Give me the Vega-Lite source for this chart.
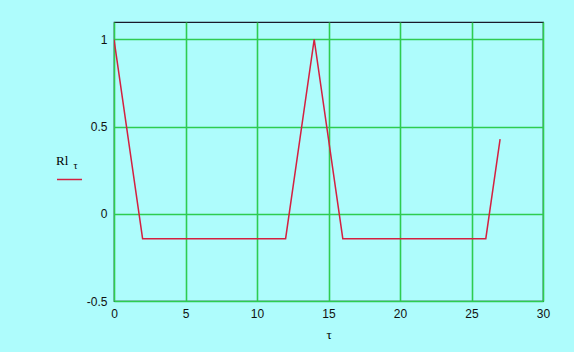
{
  "$schema": "https://vega.github.io/schema/vega-lite/v6.json",
  "autosize": {"type": "none"},
  "padding": {"left": 114, "top": 22, "right": 31, "bottom": 51},
  "width": 429,
  "height": 279,
  "background": "#aefcfc",
  "data": {
    "values": [
      {"tau": 0, "R": 1},
      {"tau": 1, "R": 0.428571},
      {"tau": 2, "R": -0.142857},
      {"tau": 3, "R": -0.142857},
      {"tau": 4, "R": -0.142857},
      {"tau": 5, "R": -0.142857},
      {"tau": 6, "R": -0.142857},
      {"tau": 7, "R": -0.142857},
      {"tau": 8, "R": -0.142857},
      {"tau": 9, "R": -0.142857},
      {"tau": 10, "R": -0.142857},
      {"tau": 11, "R": -0.142857},
      {"tau": 12, "R": -0.142857},
      {"tau": 13, "R": 0.428571},
      {"tau": 14, "R": 1},
      {"tau": 15, "R": 0.428571},
      {"tau": 16, "R": -0.142857},
      {"tau": 17, "R": -0.142857},
      {"tau": 18, "R": -0.142857},
      {"tau": 19, "R": -0.142857},
      {"tau": 20, "R": -0.142857},
      {"tau": 21, "R": -0.142857},
      {"tau": 22, "R": -0.142857},
      {"tau": 23, "R": -0.142857},
      {"tau": 24, "R": -0.142857},
      {"tau": 25, "R": -0.142857},
      {"tau": 26, "R": -0.142857},
      {"tau": 27, "R": 0.428571}
    ]
  },
  "mark": {"type": "line", "strokeWidth": 1.5, "clip": true},
  "encoding": {
    "x": {
      "field": "tau",
      "type": "quantitative",
      "scale": {"domain": [0, 30], "nice": false, "zero": false},
      "axis": {
        "title": "τ",
        "values": [0, 5, 10, 15, 20, 25, 30],
        "labelFlush": false,
        "labelOverlap": false,
        "titleFont": "Liberation Serif",
        "titleFontSize": 13,
        "titleFontWeight": "normal",
        "titleColor": "#000000",
        "titlePadding": 9
      }
    },
    "y": {
      "field": "R",
      "type": "quantitative",
      "scale": {"domain": [-0.5, 1.1], "nice": false, "zero": false},
      "axis": {
        "title": "τ",
        "values": [-0.5, 0, 0.5, 1],
        "labelFlush": false,
        "labelOverlap": false,
        "labelExpr": "datum.value == 1 ? '1' : datum.value == 0 ? '0' : datum.value == 0.5 ? '0.5' : '-0.5'",
        "titleAngle": 0,
        "titleAlign": "left",
        "titleBaseline": "alphabetic",
        "titleX": -41,
        "titleY": 146,
        "titleFont": "Liberation Serif",
        "titleFontSize": 10,
        "titleFontWeight": "normal",
        "titleColor": "#000000"
      }
    },
    "color": {
      "datum": "Rl",
      "scale": {"range": ["#d42040"]},
      "legend": {
        "title": "Rl",
        "orient": "none",
        "legendX": -58,
        "legendY": 133,
        "titleAnchor": "start",
        "titleFont": "Liberation Serif",
        "titleFontSize": 13,
        "titleFontWeight": "normal",
        "titleColor": "#000000",
        "titlePadding": -2,
        "symbolType": "stroke",
        "symbolSize": 625,
        "symbolStrokeWidth": 1.5,
        "labelExpr": "''",
        "labelFontSize": 1,
        "labelOffset": 0,
        "padding": 0
      }
    }
  },
  "config": {
    "view": {"stroke": "#1a1a2a", "strokeWidth": 1.2},
    "axis": {
      "domain": false,
      "ticks": false,
      "tickSize": 0,
      "grid": true,
      "gridColor": "#2ecc50",
      "gridWidth": 1.6,
      "gridOpacity": 1,
      "labelFont": "Liberation Sans",
      "labelFontSize": 12,
      "labelColor": "#111111",
      "labelPadding": 7
    }
  }
}
